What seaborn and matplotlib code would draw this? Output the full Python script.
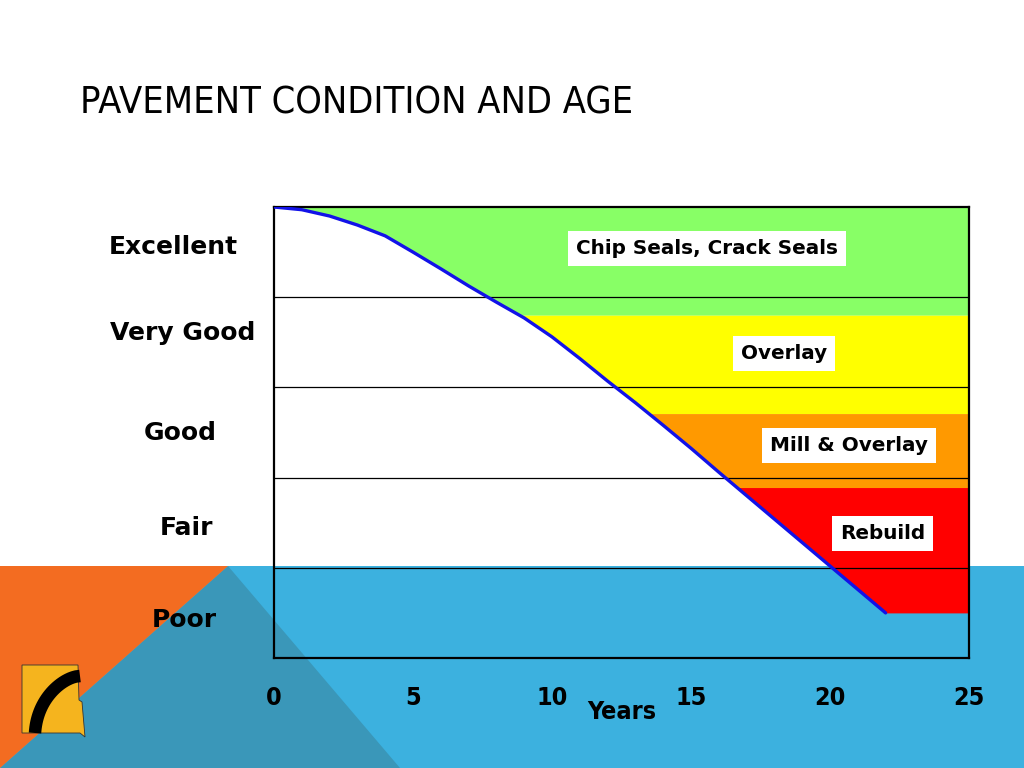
import numpy as np
import matplotlib
matplotlib.use("Agg")
import matplotlib.pyplot as plt
from matplotlib import font_manager as fm
from matplotlib.patches import Polygon
import seaborn as sns

# pavement condition curve (0-100 scale) by age in years
years = [0, 1, 2, 3, 4, 5, 6, 7, 8, 9, 10, 11, 12, 13, 14, 15, 16, 17, 18, 19, 20, 21, 22]
condition = [100, 99.4, 98.0, 96.0, 93.6, 90.0, 86.3, 82.5, 78.9, 75.4, 71.2, 66.4,
             61.4, 56.6, 51.6, 46.5, 41.2, 36.0, 30.8, 25.6, 20.4, 15.2, 10.0]

condition_levels = ["Excellent", "Very Good", "Good", "Fair", "Poor"]
level_lines = [80, 60, 40, 20]
x_ticks = [0, 5, 10, 15, 20, 25]

treatments = ["Chip Seals, Crack Seals", "Overlay", "Mill & Overlay", "Rebuild"]
treatment_low = [76, 54.2, 37.8, 10]
treatment_high = [100, 76, 54.2, 37.8]
treatment_colors = ["#88ff66", "#ffff00", "#ff9900", "#ff0000"]


def narrow_font(bold):
    # look for any installed condensed / narrow sans face, else Liberation Sans
    best = None
    for f in fm.fontManager.ttflist:
        name = f.name.lower()
        stretch = str(f.stretch).lower()
        narrowish = ("narrow" in name or "condensed" in name
                     or stretch in ("condensed", "semi-condensed", "300", "400"))
        if not narrowish or "mono" in name or "serif" in name or "extra" in name:
            continue
        w = f.weight if isinstance(f.weight, int) else fm.weight_dict.get(str(f.weight), 400)
        if f.style != "normal":
            continue
        if (w >= 600) != bold:
            continue
        best = f.fname
        break
    if best:
        return fm.FontProperties(fname=best)
    return fm.FontProperties(family=["Liberation Sans", "DejaVu Sans"],
                             weight="bold" if bold else "normal")


title_font = narrow_font(False)
tick_font = narrow_font(True)

sns.set_style("white")
plt.rcParams["font.family"] = ["DejaVu Sans"]
plt.rcParams["text.color"] = "black"
plt.rcParams["xtick.color"] = "black"
plt.rcParams["axes.labelcolor"] = "black"

fig = plt.figure(figsize=(10.24, 7.68), dpi=100)
fig.patch.set_facecolor("white")


def px(x, y):
    return (x / 1024, 1 - y / 768)


# slide background shapes
for pts, col in [
    ([(0, 566), (1024, 566), (1024, 768), (0, 768)], "#3cb1df"),
    ([(228, 566), (400, 768), (0, 768)], "#3a97b9"),
    ([(0, 566), (228, 566), (0, 768)], "#f36c21"),
]:
    fig.add_artist(Polygon([px(*p) for p in pts], closed=True, facecolor=col,
                           edgecolor="none", transform=fig.transFigure, zorder=-2))

# small logo
fig.add_artist(Polygon([px(*p) for p in [(22, 665), (78, 665), (79, 700), (82, 702),
                                         (85, 737), (80, 733), (22, 733)]],
                       closed=True, facecolor="#f5b41e", edgecolor="#333333", lw=0.6,
                       transform=fig.transFigure, zorder=-1))
t = np.linspace(0, 1, 30)
rx = 80 - 40 * np.sin(t * np.pi / 2) ** 0.8 - 5 * t
ry = 676 + 57 * t ** 1.4
fig.add_artist(plt.Line2D([px(a, b)[0] for a, b in zip(rx, ry)],
                          [px(a, b)[1] for a, b in zip(rx, ry)],
                          color="black", lw=9, solid_capstyle="butt",
                          transform=fig.transFigure, zorder=-1))

title = fig.text(80 / 1024, 1 - 114 / 768, "PAVEMENT CONDITION AND AGE",
                 fontproperties=title_font, color="black", va="baseline", ha="left")
title.set_fontsize(29)
# shrink if the face found is too wide for the reference width
fig.canvas.draw()
w = title.get_window_extent().width
if w > 560:
    title.set_fontsize(29 * 552 / w)

ax = fig.add_axes([274 / 1024, 1 - 658 / 768, 695 / 1024, 451 / 768])
ax.set_facecolor("none")

# treatment bands, bounded on the left by the curve
rev_c = np.array(condition[::-1], dtype=float)
rev_y = np.array(years[::-1], dtype=float)
for lo, hi, col in zip(treatment_low, treatment_high, treatment_colors):
    yy = np.linspace(lo, hi, 200)
    xx = np.interp(yy, rev_c, rev_y)
    ax.fill_betweenx(yy, xx, 25, color=col, lw=0, zorder=1)

ax.hlines(level_lines, 0, 25, color="black", lw=0.9, zorder=3)

sns.lineplot(x=years, y=condition, ax=ax, color="#1212e8", lw=2.4, zorder=4)

# treatment labels
label_pos = [(15.58, 90.9), (18.35, 67.6), (20.68, 47.1), (21.9, 27.6)]
for name, (x, y) in zip(treatments, label_pos):
    ax.text(x, y, name, ha="center", va="center", fontsize=14.4, weight="bold",
            color="black", zorder=5,
            bbox=dict(boxstyle="square,pad=0.4", facecolor="white", edgecolor="none"))

# condition labels on the left
level_pos = [(-3.63, 91.1), (-3.27, 72.0), (-3.38, 50.0), (-3.13, 28.9), (-3.24, 8.4)]
for name, (x, y) in zip(condition_levels, level_pos):
    ax.text(x, y, name, ha="center", va="center", fontsize=18, weight="bold",
            color="black", clip_on=False)

ax.set_xlim(0, 25)
ax.set_ylim(0, 100)
ax.set_yticks([])
ax.set_xticks(x_ticks)
ax.set_xticklabels([str(v) for v in x_ticks], fontproperties=tick_font)
for lab in ax.get_xticklabels():
    lab.set_fontsize(18)
ax.tick_params(axis="x", length=6, width=1.5, direction="out", pad=14, colors="black")
for s in ax.spines.values():
    s.set_visible(True)
    s.set_color("black")
    s.set_linewidth(1.6)
ax.set_xlabel("")
ax.set_ylabel("")
yl = ax.text(12.5, -12, "Years", ha="center", va="center", fontproperties=tick_font,
             color="black", clip_on=False)
yl.set_fontsize(18)

fig.savefig("out.png", dpi=100)
